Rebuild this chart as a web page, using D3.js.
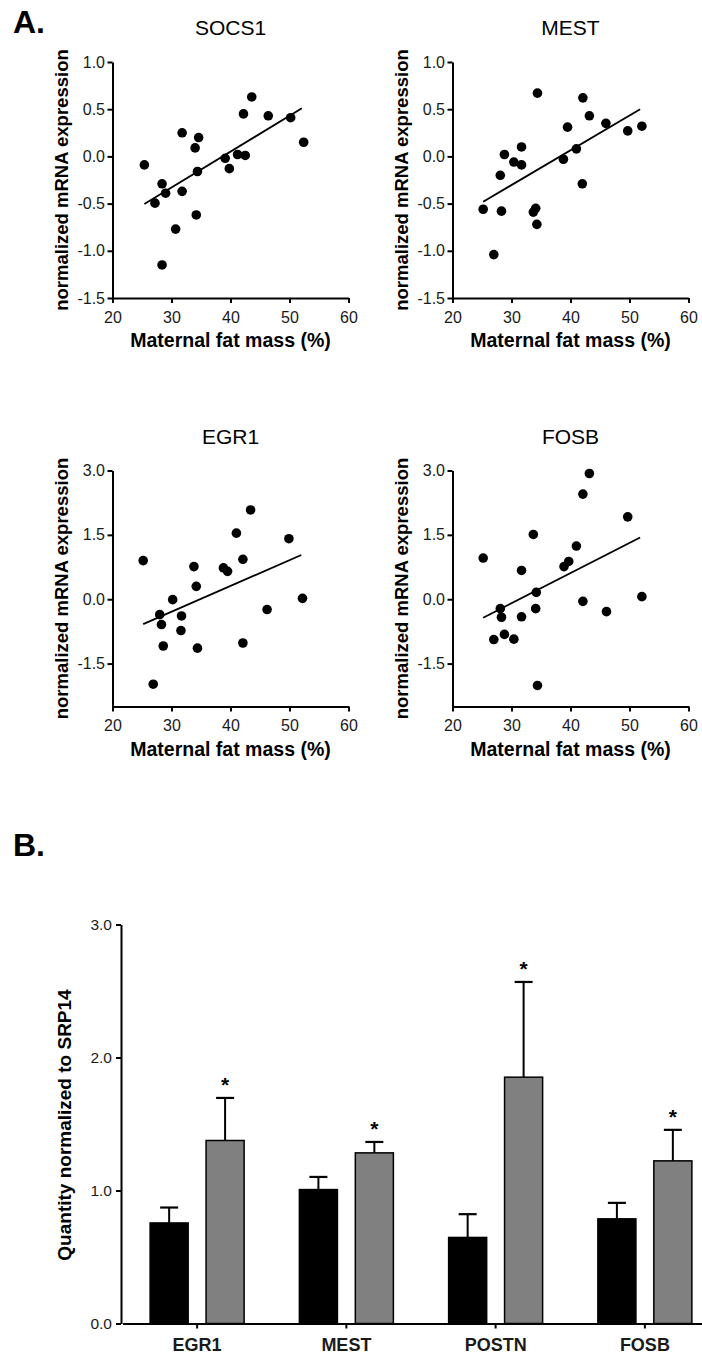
<!DOCTYPE html>
<html>
<head>
<meta charset="utf-8">
<script src="https://cdn.jsdelivr.net/npm/d3@7/dist/d3.min.js"></script>
<style>
  body { margin: 0; background: #fff; }
  svg { display: block; font-family: "Liberation Sans", Arial, sans-serif; }
  .tick text { fill: #1a1a1a; }
</style>
</head>
<body>
<svg id="chart" width="702" height="1357"></svg>
<script>
// A. scatter data, maternal fat mass (%) vs normalized mRNA expression
const socs1Fat = [25.4, 27.2, 28.4, 29.0, 28.4, 30.7, 31.8, 31.8, 34.0, 34.6, 34.4, 34.2, 39.1, 39.8, 41.2, 42.5, 42.2, 43.6, 46.4, 50.2, 52.4];
const socs1Expr = [-0.09, -0.495, -0.29, -0.39, -1.15, -0.77, 0.25, -0.37, 0.09, 0.20, -0.16, -0.62, -0.02, -0.13, 0.02, 0.01, 0.45, 0.63, 0.43, 0.41, 0.15];
const socs1Fit = [[25.4, -0.505], [52.1, 0.51]];

const mestFat = [25.2, 27.0, 28.3, 28.1, 28.8, 30.4, 31.7, 31.7, 33.7, 34.1, 34.3, 34.4, 38.8, 39.5, 41.0, 42.0, 42.1, 43.2, 46.0, 49.7, 52.1];
const mestExpr = [-0.56, -1.04, -0.58, -0.20, 0.02, -0.06, -0.09, 0.10, -0.59, -0.55, -0.72, 0.67, -0.03, 0.31, 0.08, -0.29, 0.62, 0.43, 0.35, 0.27, 0.32];
const mestFit = [[25.2, -0.48], [51.8, 0.50]];

const egr1Fat = [25.2, 26.9, 28.0, 28.3, 28.6, 30.2, 31.7, 31.6, 33.8, 34.2, 34.4, 38.8, 39.5, 41.0, 42.1, 42.1, 43.4, 46.2, 49.9, 52.2];
const egr1Expr = [0.90, -1.98, -0.36, -0.59, -1.09, -0.01, -0.39, -0.73, 0.76, 0.30, -1.14, 0.73, 0.65, 1.54, 0.93, -1.02, 2.08, -0.24, 1.41, 0.02];
const egr1Fit = [[25.2, -0.58], [52.0, 1.03]];

const fosbFat = [25.2, 27.0, 28.1, 28.3, 28.8, 30.4, 31.7, 31.7, 33.7, 34.2, 34.1, 34.4, 38.9, 39.7, 41.0, 42.1, 42.1, 43.2, 46.1, 49.7, 52.1];
const fosbExpr = [0.96, -0.94, -0.22, -0.42, -0.82, -0.93, 0.67, -0.41, 1.51, 0.16, -0.22, -2.01, 0.76, 0.88, 1.24, 2.45, -0.05, 2.93, -0.29, 1.92, 0.06];
const fosbFit = [[25.2, -0.43], [51.8, 1.44]];

const fatTicks = [20, 30, 40, 50, 60];
const smallTicks = [-1.5, -1.0, -0.5, 0.0, 0.5, 1.0];
const largeTicks = [-1.5, 0.0, 1.5, 3.0];

// B. bar data
const genes = ["EGR1", "MEST", "POSTN", "FOSB"];
const groups = ["low", "high"];
const lowMean = [0.756, 1.007, 0.647, 0.787];
const lowSem = [0.116, 0.095, 0.175, 0.12];
const highMean = [1.376, 1.283, 1.852, 1.223];
const highSem = [0.32, 0.082, 0.716, 0.233];
const barTicks = [0.0, 1.0, 2.0, 3.0];

const svg = d3.select("#chart");
const fmt = (d) => d.toFixed(1);

svg.append("rect").attr("width", 702).attr("height", 1357).attr("fill", "#fff");

// panel letters
svg.append("text").attr("x", 13).attr("y", 33)
  .attr("font-size", 32).attr("font-weight", "bold").text("A.");
svg.append("text").attr("x", 13).attr("y", 856)
  .attr("font-size", 32).attr("font-weight", "bold").text("B.");

const panels = [
  { title: "SOCS1", fat: socs1Fat, expr: socs1Expr, fit: socs1Fit, domain: [-1.5, 1.0], ticks: smallTicks, left: 112.5, top: 62 },
  { title: "MEST", fat: mestFat, expr: mestExpr, fit: mestFit, domain: [-1.5, 1.0], ticks: smallTicks, left: 452.5, top: 62 },
  { title: "EGR1", fat: egr1Fat, expr: egr1Expr, fit: egr1Fit, domain: [-2.5, 3.0], ticks: largeTicks, left: 112.5, top: 470.5 },
  { title: "FOSB", fat: fosbFat, expr: fosbExpr, fit: fosbFit, domain: [-2.5, 3.0], ticks: largeTicks, left: 452.5, top: 470.5 }
];
const plotW = 236;
const plotH = 236;

panels.forEach((p) => {
  const g = svg.append("g").attr("transform", `translate(${p.left},${p.top})`);

  const x = d3.scaleLinear().domain([20, 60]).range([0, plotW]);
  const y = d3.scaleLinear().domain(p.domain).range([plotH, 0]);

  // axes
  const yAxis = g.append("g")
    .call(d3.axisLeft(y).tickValues(p.ticks).tickFormat(fmt).tickSize(5).tickSizeOuter(0).tickPadding(2.5));
  const xAxis = g.append("g")
    .attr("transform", `translate(0,${plotH})`)
    .call(d3.axisBottom(x).tickValues(fatTicks).tickSize(5).tickSizeOuter(0).tickPadding(8.5));

  [yAxis, xAxis].forEach((a) => {
    a.select(".domain").attr("stroke", "#000").attr("stroke-width", 2);
    a.selectAll(".tick line").attr("stroke", "#000").attr("stroke-width", 2);
    a.selectAll(".tick text").attr("font-size", 16).attr("font-family", "Liberation Sans, Arial, sans-serif");
  });

  // title + labels
  g.append("text")
    .attr("x", plotW / 2).attr("y", -27)
    .attr("text-anchor", "middle")
    .attr("font-size", 21)
    .text(p.title);

  g.append("text")
    .attr("transform", `translate(-45,${plotH / 2}) rotate(-90)`)
    .attr("text-anchor", "middle")
    .attr("font-size", 18.5)
    .attr("font-weight", "bold")
    .text("normalized mRNA expression");

  g.append("text")
    .attr("x", plotW / 2).attr("y", plotH + 49)
    .attr("text-anchor", "middle")
    .attr("font-size", 19.5)
    .attr("font-weight", "bold")
    .text("Maternal fat mass (%)");

  // regression line
  g.append("line")
    .attr("x1", x(p.fit[0][0])).attr("y1", y(p.fit[0][1]))
    .attr("x2", x(p.fit[1][0])).attr("y2", y(p.fit[1][1]))
    .attr("stroke", "#000")
    .attr("stroke-width", 1.8);

  // dots
  g.selectAll("circle.dot")
    .data(p.fat.map((f, i) => ({ fat: f, expr: p.expr[i] })))
    .enter().append("circle")
    .attr("class", "dot")
    .attr("cx", (d) => x(d.fat))
    .attr("cy", (d) => y(d.expr))
    .attr("r", 4.8)
    .attr("fill", "#000");
});

/////////////////////////////////////////////////////////
// B. bar chart

const barTop = 924.5;
const barBottom = 1323.5;
const barLeft = 121;

const yBar = d3.scaleLinear().domain([0, 3]).range([barBottom, barTop]);
const xGene = d3.scaleBand().domain(genes).range([122.5, 719.5]);
const xGroup = d3.scaleBand().domain(groups).range([-47, 47]).paddingInner(0.32);

const barData = [];
genes.forEach((gene, i) => {
  barData.push({ gene: gene, group: "low", mean: lowMean[i], sem: lowSem[i], star: false });
  barData.push({ gene: gene, group: "high", mean: highMean[i], sem: highSem[i], star: true });
});

const bars = svg.append("g");

bars.selectAll("rect.bar")
  .data(barData)
  .enter().append("rect")
  .attr("class", "bar")
  .attr("x", (d) => xGene(d.gene) + xGene.bandwidth() / 2 + xGroup(d.group))
  .attr("y", (d) => yBar(d.mean))
  .attr("width", xGroup.bandwidth())
  .attr("height", (d) => yBar(0) - yBar(d.mean))
  .attr("fill", (d) => d.group === "low" ? "#000" : "#808080")
  .attr("stroke", "#000")
  .attr("stroke-width", 1.5);

const barCenter = (d) => xGene(d.gene) + xGene.bandwidth() / 2 + xGroup(d.group) + xGroup.bandwidth() / 2;

// error bars (upper only)
bars.selectAll("line.err")
  .data(barData)
  .enter().append("line")
  .attr("class", "err")
  .attr("x1", barCenter).attr("x2", barCenter)
  .attr("y1", (d) => yBar(d.mean))
  .attr("y2", (d) => yBar(d.mean + d.sem))
  .attr("stroke", "#000").attr("stroke-width", 2);

bars.selectAll("line.cap")
  .data(barData)
  .enter().append("line")
  .attr("class", "cap")
  .attr("x1", (d) => barCenter(d) - 9).attr("x2", (d) => barCenter(d) + 9)
  .attr("y1", (d) => yBar(d.mean + d.sem))
  .attr("y2", (d) => yBar(d.mean + d.sem))
  .attr("stroke", "#000").attr("stroke-width", 2.2);

bars.selectAll("text.star")
  .data(barData.filter((d) => d.star))
  .enter().append("text")
  .attr("class", "star")
  .attr("x", barCenter)
  .attr("y", (d) => yBar(d.mean + d.sem) - 6)
  .attr("text-anchor", "middle")
  .attr("font-size", 21)
  .attr("font-weight", "bold")
  .text("*");

// axes
const yBarAxis = svg.append("g")
  .attr("transform", `translate(${barLeft},0)`)
  .call(d3.axisLeft(yBar).tickValues(barTicks).tickFormat(fmt).tickSize(5).tickSizeOuter(0).tickPadding(4));

const xBarAxis = svg.append("g")
  .attr("transform", `translate(0,${barBottom})`)
  .call(d3.axisBottom(xGene).tickSize(5).tickSizeOuter(0).tickPadding(10));

[yBarAxis, xBarAxis].forEach((a) => {
  a.select(".domain").attr("stroke", "#000").attr("stroke-width", 2);
  a.selectAll(".tick line").attr("stroke", "#000").attr("stroke-width", 2);
  a.selectAll(".tick text").attr("font-family", "Liberation Sans, Arial, sans-serif");
});
yBarAxis.selectAll(".tick text").attr("font-size", 15.5);
xBarAxis.selectAll(".tick text").attr("font-size", 18).attr("font-weight", "bold");

svg.append("text")
  .attr("transform", `translate(71,1125) rotate(-90)`)
  .attr("text-anchor", "middle")
  .attr("font-size", 19)
  .attr("font-weight", "bold")
  .text("Quantity normalized to SRP14");
</script>
</body>
</html>
